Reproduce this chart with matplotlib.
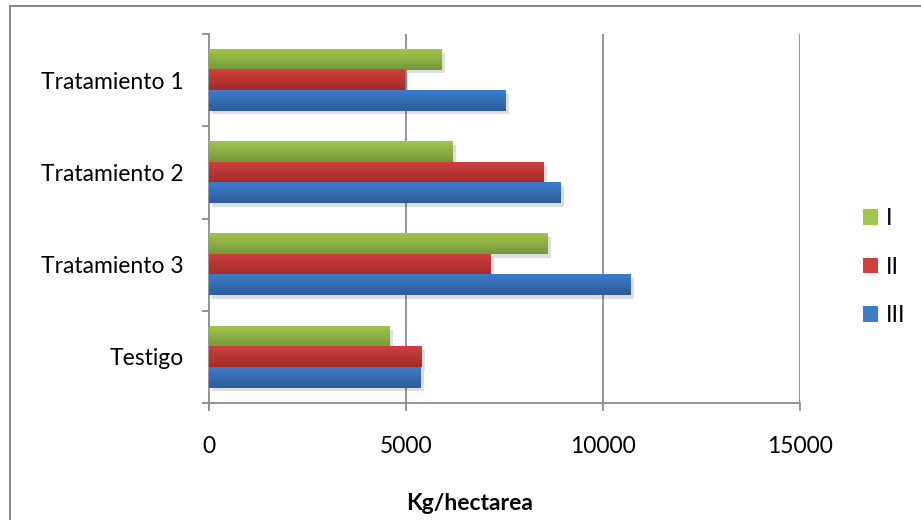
import matplotlib
matplotlib.use("Agg")
import matplotlib.pyplot as plt
import numpy as np
from matplotlib.colors import LinearSegmentedColormap
from matplotlib.patches import Rectangle
import matplotlib.patheffects as pe

plt.rcParams['font.family'] = ['Lato', 'DejaVu Sans']

# Yield per treatment (Kg/hectarea) for repetitions I, II, III
categories = ["Tratamiento 1", "Tratamiento 2", "Tratamiento 3", "Testigo"]
series_names = ["I", "II", "III"]
values_I = [5910, 6170, 8600, 4570]
values_II = [4950, 8500, 7150, 5400]
values_III = [7530, 8910, 10710, 5380]
x_ticks = [0, 5000, 10000, 15000]

series_values = [values_I, values_II, values_III]
# (top, bottom) gradient colours per series
grad_colors = [("#a0c64e", "#77973a"), ("#d0403d", "#a02c2a"), ("#3e7ccb", "#2c5c99")]
solid_colors = ["#8db543", "#bf3936", "#3a72bb"]
FS = 16.5

fig = plt.figure(figsize=(9.21, 5.20), dpi=100)
ax = fig.add_axes([209 / 921, 1 - 403 / 520, 591 / 921, 369 / 520])

n = len(categories)
y = np.arange(n)
bar_h = 0.222
offsets = [-bar_h, 0, bar_h]

ax.set_xlim(0, 15000)
ax.set_ylim(n - 0.5, -0.5)

for vals, off, gc, sc, name in zip(series_values, offsets, grad_colors, solid_colors, series_names):
    bars = ax.barh(y + off, vals, height=bar_h, color=sc, label=name, zorder=3,
                   path_effects=[pe.SimplePatchShadow(offset=(2.5, -2.5), shadow_rgbFace="#000000", alpha=0.13),
                                 pe.Normal()])
    cmap = LinearSegmentedColormap.from_list(name, [gc[0], gc[1]])
    grad = np.linspace(0, 1, 64).reshape(-1, 1)
    for b in bars:
        x0, yb, w, h = b.get_x(), b.get_y(), b.get_width(), b.get_height()
        ax.imshow(grad, extent=[x0, x0 + w, yb + h, yb], cmap=cmap, aspect='auto',
                  zorder=4, interpolation='bilinear')

ax.set_xlim(0, 15000)
ax.set_ylim(n - 0.5, -0.5)

# vertical gridlines
for xv in x_ticks[1:]:
    ax.axvline(xv, color="#8c8c8c", lw=1.3, zorder=1)

for s in ["top", "right"]:
    ax.spines[s].set_visible(False)
for s in ["left", "bottom"]:
    ax.spines[s].set_color("#8c8c8c")
    ax.spines[s].set_linewidth(1.3)

ax.set_xticks(x_ticks)
ax.set_xticklabels([str(v) for v in x_ticks])
ax.tick_params(axis='x', length=6, width=1.3, color="#8c8c8c", pad=18, labelsize=FS)

ax.set_yticks(y)
ax.set_yticklabels(categories)
ax.set_yticks(np.arange(n + 1) - 0.5, minor=True)
ax.tick_params(axis='y', which='major', length=0, pad=18, labelsize=FS)
ax.tick_params(axis='y', which='minor', length=5, width=1.3, color="#8c8c8c")

fig.text(470 / 921, 1 - 503 / 520, "Kg/hectarea", ha='center', va='center',
         fontsize=FS, fontweight='bold')

handles = [Rectangle((0, 0), 1, 1, facecolor=c[0], edgecolor='none') for c in grad_colors]
fig.legend(handles, series_names, loc='upper left', bbox_to_anchor=(863 / 921, 1 - 208 / 520),
           frameon=False, handlelength=0.65, handleheight=0.65, handletextpad=0.35,
           labelspacing=1.2, borderpad=0, borderaxespad=0, fontsize=FS)

# outer chart border
fig.patches.append(Rectangle((10 / 921, -0.05), 2.0, 1 - 6 / 520 + 0.05, transform=fig.transFigure,
                             fill=False, edgecolor="#8c8c8c", lw=1.5))

fig.savefig("out.png", dpi=100)
